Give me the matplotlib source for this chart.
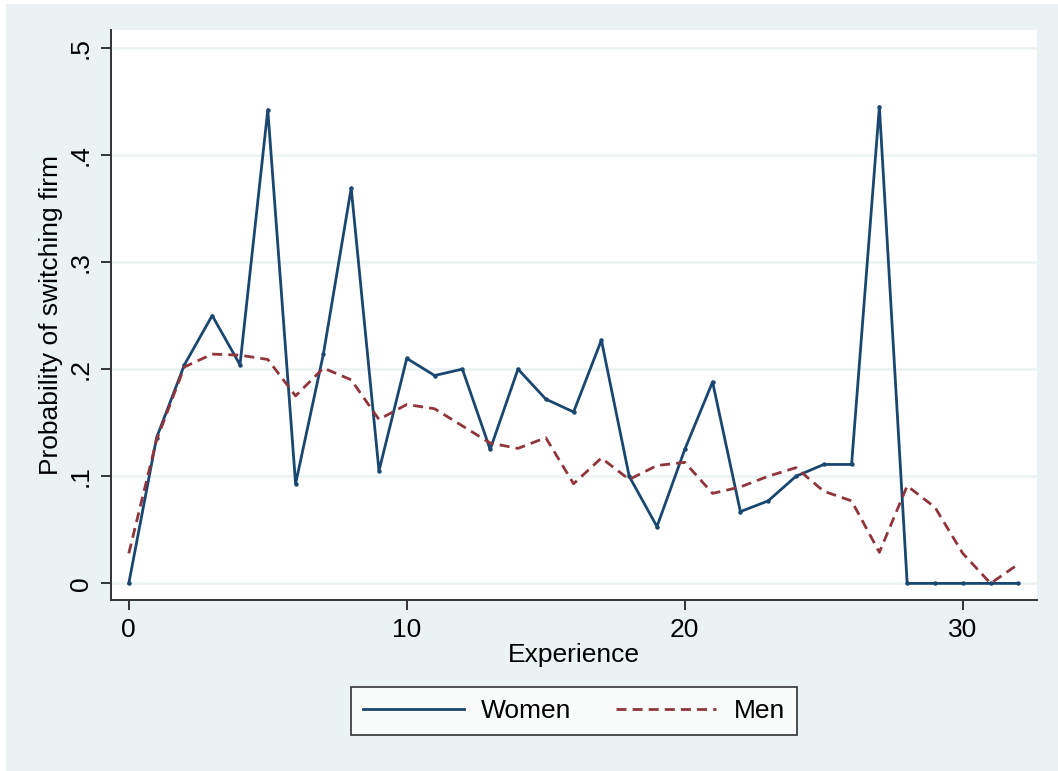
import matplotlib.pyplot as plt
from matplotlib.patches import Rectangle

plt.rcParams['font.family'] = ['Liberation Sans', 'DejaVu Sans']

experience = list(range(33))
women = [0.0, 0.136, 0.204, 0.250, 0.204, 0.442, 0.093, 0.214, 0.369, 0.105,
         0.210, 0.194, 0.200, 0.125, 0.200, 0.172, 0.160, 0.227, 0.100, 0.053,
         0.125, 0.188, 0.067, 0.077, 0.100, 0.111, 0.111, 0.445, 0.0, 0.0,
         0.0, 0.0, 0.0]
men = [0.028, 0.134, 0.202, 0.214, 0.213, 0.209, 0.175, 0.201, 0.190, 0.153,
       0.167, 0.163, 0.147, 0.131, 0.126, 0.136, 0.093, 0.117, 0.097, 0.110,
       0.113, 0.084, 0.090, 0.100, 0.108, 0.086, 0.077, 0.029, 0.091, 0.071,
       0.028, 0.0, 0.018]
yticks = [0, 0.1, 0.2, 0.3, 0.4, 0.5]
ytick_labels = ['0', '.1', '.2', '.3', '.4', '.5']
xticks = [0, 10, 20, 30]

W, H = 1058, 771
bg = '#EAF2F3'
navy = '#1A476F'
maroon = '#90353B'

fig = plt.figure(figsize=(W / 100, H / 100), dpi=100, facecolor='white')
fig.patches.append(Rectangle((6 / W, 0), 1 - 6 / W, 1 - 4 / H,
                             transform=fig.transFigure, facecolor=bg,
                             edgecolor='none', zorder=-10))

ax = fig.add_axes([111 / W, (H - 600) / H, (1037 - 111) / W, (600 - 30) / H])
ax.set_facecolor('white')

ax.plot(experience, women, color=navy, lw=2.0, marker='o', ms=2.2,
        label='Women', zorder=3)
ax.plot(experience, men, color=maroon, lw=2.0, ls=(0, (3.6, 2.2)),
        label='Men', zorder=3)

ax.set_xlim(-0.64, 32.67)
ax.set_ylim(-0.0155, 0.5165)
ax.set_yticks(yticks)
ax.set_yticklabels(ytick_labels, rotation=90, va='center')
ax.set_xticks(xticks)
ax.grid(axis='y', color=bg, lw=1.8)
ax.set_axisbelow(True)

for s in ['top', 'right']:
    ax.spines[s].set_visible(False)
for s in ['left', 'bottom']:
    ax.spines[s].set_color('#333333')
    ax.spines[s].set_linewidth(1.4)
ax.tick_params(axis='both', length=7, width=1.4, color='#333333',
               labelsize=19, pad=6)

ax.set_xlabel('Experience', fontsize=19, labelpad=1)
ax.set_ylabel('Probability of switching firm', fontsize=19, labelpad=4)

leg = ax.legend(loc='center', bbox_to_anchor=(574 / W, (H - 711) / H),
                bbox_transform=fig.transFigure, ncol=2, fontsize=19,
                frameon=True, fancybox=False, handlelength=3.8,
                handletextpad=0.65, columnspacing=1.7, borderpad=0.45)
leg.get_frame().set_edgecolor('black')
leg.get_frame().set_linewidth(1.2)
for h in leg.legend_handles:
    h.set_marker('')

fig.savefig('out.png', dpi=100, facecolor=fig.get_facecolor())
